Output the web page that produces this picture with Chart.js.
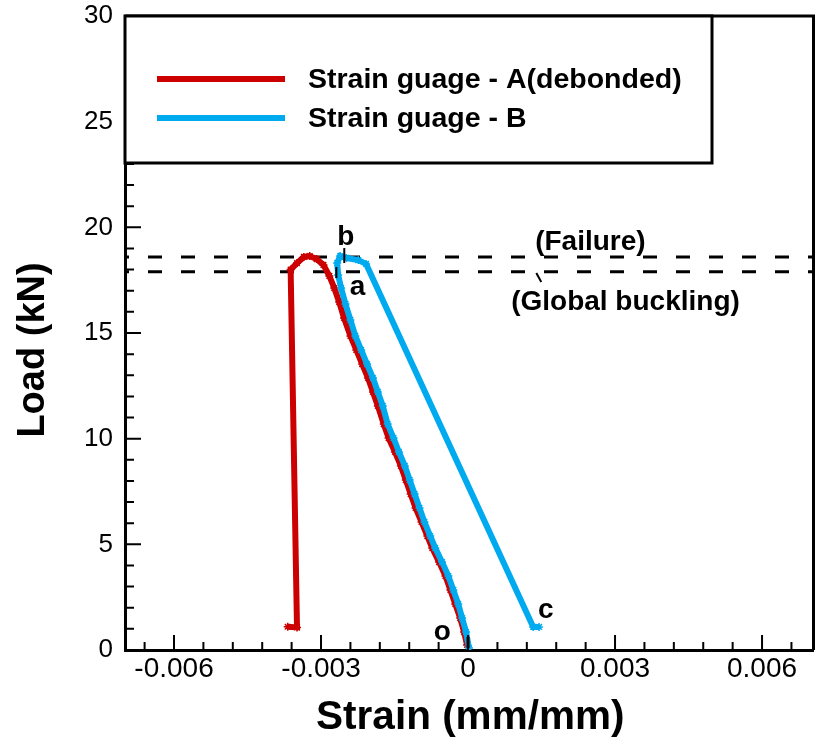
<!DOCTYPE html>
<html><head><meta charset="utf-8">
<script src="https://cdn.jsdelivr.net/npm/chart.js@4.4.0/dist/chart.umd.min.js"></script>
<style>html,body{margin:0;padding:0;background:#fff}#wrap{width:819px;height:749px}</style>
</head><body><div id="wrap"><canvas id="c" width="819" height="749"></canvas></div>
<script>
// ---------- data ----------
const seriesNames = ['Strain guage - A(debonded)', 'Strain guage - B'];
const xTitle = 'Strain (mm/mm)';
const yTitle = 'Load (kN)';

const redStrain = [-0.00368,-0.00349,-0.00362,-0.00349,-0.00335,-0.00323,-0.00309,-0.00295,-0.00283,-0.00273,-0.00263,-0.00253,-0.00240,-0.00228,-0.00216,-0.00204,-0.00194,-0.00184,-0.00172,-0.00162,-0.00149,-0.00137,-0.00127,-0.00117,-0.00107,-0.00095,-0.00083,-0.00073,-0.00059,-0.00046,-0.00036,-0.00026,-0.00016,-0.00008,-0.00002];
const redLoad   = [1.10,1.07,18.00,18.31,18.60,18.64,18.50,18.22,17.70,17.13,16.47,15.71,14.86,14.20,13.53,12.87,12.21,11.55,10.69,10.03,9.37,8.71,8.04,7.38,6.72,6.06,5.39,4.83,4.16,3.50,2.84,2.18,1.51,0.85,0.24];

const blueStrain = [0.00002,-0.00004,-0.00012,-0.00020,-0.00030,-0.00040,-0.00053,-0.00067,-0.00077,-0.00089,-0.00099,-0.00109,-0.00119,-0.00129,-0.00141,-0.00152,-0.00164,-0.00174,-0.00184,-0.00194,-0.00206,-0.00218,-0.00230,-0.00240,-0.00250,-0.00259,-0.00265,-0.00267,-0.00261,-0.00248,-0.00224,-0.00208,0.00133,0.00145];
const blueLoad   = [0.09,0.85,1.51,2.18,2.84,3.50,4.16,4.83,5.39,6.06,6.72,7.38,8.04,8.71,9.37,10.03,10.69,11.55,12.21,12.87,13.53,14.20,14.86,15.62,16.37,17.13,17.74,18.31,18.64,18.55,18.45,18.27,1.09,1.09];

const failureLoad = 18.6;
const bucklingLoad = 17.9;

const xRange = [-0.007, 0.00705];
const yRange = [0, 30];
const xTickValues = [-0.006, -0.003, 0, 0.003, 0.006];
const xTickLabels = ['-0.006', '-0.003', '0', '0.003', '0.006'];
const yTickValues = [0, 5, 10, 15, 20, 25, 30];
const yTickLabels = ['0', '5', '10', '15', '20', '25', '30'];
const xMinorStep = 0.0006;
const yMinorStep = 1;

const noteTexts = ['b', 'a', 'c', 'o', '(Failure)', '(Global buckling)'];

// ---------- styles / placement (not data) ----------
const RED = '#cc0000';
const BLUE = '#00aaef';
const FONT = '"Liberation Sans", Arial, Helvetica, sans-serif';
const notePlaces = [
  {x: -0.002495, y: 19.16, align: 'center'},
  {x: -0.002253, y: 16.80, align: 'center'},
  {x: 0.001586, y: 1.51, align: 'center'},
  {x: -0.000525, y: 0.47, align: 'center'},
  {x: 0.00137, y: 18.93, align: 'left'},
  {x: 0.00088, y: 16.09, align: 'left'}
];
const markSegments = [
  {x1: -0.002525, y1: 19.02, x2: -0.002525, y2: 18.31, w: 2},
  {x1: -0.002687, y1: 18.12, x2: -0.002687, y2: 17.60, w: 2},
  {x1: 0.0000, y1: 0.62, x2: 0.0000, y2: 0.09, w: 3},
  {x1: 0.001394, y1: 17.84, x2: 0.001495, y2: 17.41, w: 2}
];

function zip(xs, ys) { return xs.map((v, i) => ({x: v, y: ys[i]})); }

const decor = {
  id: 'decor',
  afterDraw(chart) {
    const ctx = chart.ctx;
    const ca = chart.chartArea;
    const xs = chart.scales.x, ys = chart.scales.y;
    ctx.save();
    ctx.strokeStyle = '#000';
    ctx.fillStyle = '#000';
    // frame top / right
    ctx.lineWidth = 3;
    ctx.beginPath();
    ctx.moveTo(ca.left, ca.top); ctx.lineTo(ca.right, ca.top); ctx.lineTo(ca.right, ca.bottom);
    ctx.stroke();
    // inward ticks
    ctx.lineWidth = 2;
    ctx.beginPath();
    for (let k = Math.ceil(xRange[0] / xMinorStep); k * xMinorStep <= xRange[1] + 1e-12; k++) {
      const v = k * xMinorStep;
      const isMajor = xTickValues.some(t => Math.abs(t - v) < 1e-9);
      const px = xs.getPixelForValue(v);
      ctx.moveTo(px, ca.bottom); ctx.lineTo(px, ca.bottom - (isMajor ? 15 : 8));
    }
    for (let v = yRange[0]; v <= yRange[1]; v += yMinorStep) {
      const isMajor = yTickValues.includes(v);
      const py = ys.getPixelForValue(v);
      ctx.moveTo(ca.left, py); ctx.lineTo(ca.left + (isMajor ? 16 : 9), py);
    }
    ctx.stroke();
    // legend box
    const lx = ca.left, ly = ca.top, lw = 587, lh = 147;
    ctx.fillStyle = '#fff';
    ctx.fillRect(lx, ly, lw, lh);
    ctx.lineWidth = 3;
    ctx.strokeStyle = '#000';
    ctx.strokeRect(lx, ly, lw, lh);
    const colors = [RED, BLUE];
    const rows = [63, 102];
    ctx.font = 'bold 28.5px ' + FONT;
    ctx.textBaseline = 'middle';
    ctx.textAlign = 'left';
    for (let i = 0; i < 2; i++) {
      ctx.strokeStyle = colors[i];
      ctx.lineWidth = 6;
      ctx.beginPath();
      ctx.moveTo(lx + 32, ly + rows[i]); ctx.lineTo(lx + 160, ly + rows[i]);
      ctx.stroke();
      ctx.fillStyle = '#000';
      ctx.fillText(seriesNames[i], lx + 183, ly + rows[i] + 1);
    }
    // annotation marks
    ctx.strokeStyle = '#000';
    markSegments.forEach(s => {
      ctx.lineWidth = s.w;
      ctx.beginPath();
      ctx.moveTo(xs.getPixelForValue(s.x1), ys.getPixelForValue(s.y1));
      ctx.lineTo(xs.getPixelForValue(s.x2), ys.getPixelForValue(s.y2));
      ctx.stroke();
    });
    // annotation texts
    ctx.font = 'bold 28px ' + FONT;
    ctx.textBaseline = 'alphabetic';
    ctx.fillStyle = '#000';
    noteTexts.forEach((t, i) => {
      const p = notePlaces[i];
      ctx.textAlign = p.align;
      ctx.fillText(t, xs.getPixelForValue(p.x), ys.getPixelForValue(p.y));
    });
    // axis titles
    ctx.textAlign = 'center';
    ctx.textBaseline = 'middle';
    ctx.font = 'bold 40.5px ' + FONT;
    ctx.fillText(xTitle, (ca.left + ca.right) / 2 + 1, 718);
    ctx.save();
    ctx.translate(34, 350);
    ctx.rotate(-Math.PI / 2);
    ctx.font = 'bold 38px ' + FONT;
    ctx.fillText(yTitle, 0, 0);
    ctx.restore();
    ctx.restore();
  }
};

const chart = new Chart(document.getElementById('c'), {
  type: 'scatter',
  data: {
    datasets: [
      {
        label: seriesNames[0], data: zip(redStrain, redLoad), showLine: true,
        borderColor: RED, backgroundColor: RED, borderWidth: 6,
        pointStyle: 'star', pointRadius: 4, pointBorderWidth: 1.5, pointBorderColor: RED,
        tension: 0, order: 2
      },
      {
        label: seriesNames[1], data: zip(blueStrain, blueLoad), showLine: true,
        borderColor: BLUE, backgroundColor: BLUE, borderWidth: 6,
        pointStyle: 'star', pointRadius: 4, pointBorderWidth: 1.5, pointBorderColor: BLUE,
        tension: 0, order: 1
      },
      {
        label: 'Failure', data: zip(xRange, [failureLoad, failureLoad]), showLine: true,
        borderColor: '#000', borderWidth: 3, borderDash: [14, 19], borderDashOffset: 10,
        pointRadius: 0, order: 3
      },
      {
        label: 'Global buckling', data: zip(xRange, [bucklingLoad, bucklingLoad]), showLine: true,
        borderColor: '#000', borderWidth: 3, borderDash: [14, 19], borderDashOffset: 10,
        pointRadius: 0, order: 3
      }
    ]
  },
  options: {
    responsive: false,
    animation: false,
    devicePixelRatio: 1,
    layout: {padding: {top: 16, right: 2, left: 0, bottom: 0}},
    plugins: {legend: {display: false}, tooltip: {enabled: false}},
    scales: {
      x: {
        type: 'linear', min: xRange[0], max: xRange[1],
        afterBuildTicks: s => { s.ticks = xTickValues.map(v => ({value: v})); },
        afterFit: s => { s.height = 99; s.paddingLeft = 0; s.paddingRight = 0; },
        grid: {display: false, drawTicks: false},
        border: {display: true, color: '#000', width: 3},
        ticks: {
          autoSkip: false, maxRotation: 0, padding: 2, color: '#000',
          font: {family: FONT, size: 28, lineHeight: 1.2},
          callback: (v, i) => xTickLabels[i]
        }
      },
      y: {
        type: 'linear', min: yRange[0], max: yRange[1],
        afterBuildTicks: s => { s.ticks = yTickValues.map(v => ({value: v})); },
        afterFit: s => { s.width = 125; s.paddingTop = 0; s.paddingBottom = 0; },
        grid: {display: false, drawTicks: false},
        border: {display: true, color: '#000', width: 3},
        ticks: {
          autoSkip: false, padding: 12, color: '#000',
          font: {family: FONT, size: 26},
          callback: (v, i) => yTickLabels[i]
        }
      }
    }
  },
  plugins: [decor]
});
</script>
</body></html>
